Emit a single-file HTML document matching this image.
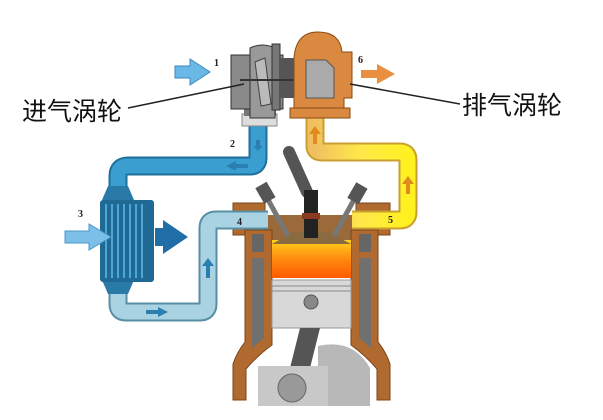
<!DOCTYPE html>
<html><head><meta charset="utf-8"><style>
html,body{margin:0;padding:0;background:#fff;width:603px;height:420px;overflow:hidden}
svg{display:block}
</style></head><body>
<svg width="603" height="420" viewBox="0 0 603 420" xmlns="http://www.w3.org/2000/svg">
<defs>
<linearGradient id="fire" x1="0" y1="0" x2="0" y2="1"><stop offset="0" stop-color="#ffd21a"/><stop offset="0.5" stop-color="#ff8a10"/><stop offset="1" stop-color="#ff5a00"/></linearGradient>
<linearGradient id="yel" x1="0" y1="0" x2="1" y2="0"><stop offset="0" stop-color="#f0c060"/><stop offset="0.5" stop-color="#ffe84a"/><stop offset="1" stop-color="#fff020"/></linearGradient>
</defs>
<!-- dark blue pipe -->
<path d="M258 124 V158 Q258 166 250 166 H128 Q118 166 118 176 V192" fill="none" stroke="#1e6f9a" stroke-width="19"/>
<path d="M258 124 V158 Q258 166 250 166 H128 Q118 166 118 176 V192" fill="none" stroke="#3a9fd0" stroke-width="15"/>
<!-- engine head blocks -->
<rect x="233" y="203" width="32" height="32" fill="#b06a30" stroke="#7a4418"/>
<rect x="356" y="203" width="34" height="32" fill="#b06a30" stroke="#7a4418"/>
<rect x="265" y="215" width="91" height="25" fill="#9a6a3a"/>
<!-- walls -->
<path d="M245 230 h27 v115 q-14 10 -26 24 v31 h-13 v-36 q4 -12 12 -22z" fill="#b06a30" stroke="#7a4418"/>
<path d="M378 230 h-27 v115 q14 10 26 24 v31 h13 v-36 q-4 -12 -12 -22z" fill="#b06a30" stroke="#7a4418"/>
<rect x="252" y="234" width="12" height="18" fill="#666"/>
<path d="M252 258 h12 v80 l-12 10z" fill="#707070"/>
<rect x="359" y="234" width="12" height="18" fill="#666"/>
<path d="M371 258 h-12 v80 l12 10z" fill="#707070"/>
<!-- light blue pipe -->
<path d="M118 290 V304 Q118 312 126 312 H200 Q208 312 208 304 V228 Q208 220 216 220 H268" fill="none" stroke="#5a8ea5" stroke-width="19"/>
<path d="M118 290 V304 Q118 312 126 312 H200 Q208 312 208 304 V228 Q208 220 216 220 H268" fill="none" stroke="#a9d3e2" stroke-width="15"/>
<!-- yellow pipe -->
<path d="M315 118 V146 Q315 152 322 152 H400 Q408 152 408 160 V212 Q408 220 400 220 H352" fill="none" stroke="#c9a030" stroke-width="19"/>
<path d="M315 118 V146 Q315 152 322 152 H400 Q408 152 408 160 V212 Q408 220 400 220 H352" fill="none" stroke="url(#yel)" stroke-width="15"/>
<!-- chamber & piston -->
<rect x="272" y="240" width="79" height="38" fill="url(#fire)"/>
<path d="M272 244 l22 -12 h34 l23 12z" fill="#8a6a40"/>
<rect x="272" y="280" width="79" height="48" fill="#d8d8d8" stroke="#999"/>
<line x1="272" y1="286" x2="351" y2="286" stroke="#888"/>
<line x1="272" y1="291" x2="351" y2="291" stroke="#888"/>
<circle cx="311" cy="302" r="7" fill="#888" stroke="#555"/>
<!-- crank area -->
<path d="M318 346 q35 -8 52 22 v38 h-52z" fill="#b8b8b8"/>
<path d="M300 328 h20 l-12 48 h-20z" fill="#555"/>
<path d="M258 366 h70 v40 h-70z" fill="#c8c8c8"/>
<circle cx="292" cy="388" r="14" fill="#999" stroke="#666"/>
<!-- pipe arrows -->
<path d="M226 166 l10 -5 v3 h12 v4 h-12 v3z" fill="#2a7fb0"/>
<path d="M258 151 l-5 -5 h3 v-6 h4 v6 h3z" fill="#2a7fb0"/>
<path d="M168 312 l-10 -5 v3 h-12 v4 h12 v3z" fill="#2a7fb0"/>
<path d="M208 258 l-6 8 h4 v12 h4 v-12 h4z" fill="#2a7fb0"/>
<path d="M408 176 l-6 8 h4 v10 h4 v-10 h4z" fill="#e08a20"/>
<path d="M315 126 l-6 8 h4 v10 h4 v-10 h4z" fill="#e08a20"/>
<!-- intercooler -->
<path d="M108 186 h20 l6 14 h-32z" fill="#2a7aa8"/>
<path d="M102 280 h32 l-6 14 h-20z" fill="#2a7aa8"/>
<rect x="100" y="200" width="54" height="82" rx="3" fill="#1f6a95"/>
<g stroke="#4da6d6" stroke-width="2">
<line x1="106" y1="204" x2="106" y2="278"/><line x1="112" y1="204" x2="112" y2="278"/><line x1="118" y1="204" x2="118" y2="278"/><line x1="124" y1="204" x2="124" y2="278"/><line x1="130" y1="204" x2="130" y2="278"/><line x1="136" y1="204" x2="136" y2="278"/><line x1="142" y1="204" x2="142" y2="278"/>
</g>
<path d="M65 231 h24 v-7 l22 13 l-22 13 v-7 h-24z" fill="#7cc0e8" stroke="#4b98c8"/>
<path d="M155 228 h8 v-8 l25 17 l-25 17 v-8 h-8z" fill="#1f6ea8"/>
<!-- valves -->
<path d="M266 196 l22 40" stroke="#777" stroke-width="5"/>
<rect x="259" y="184" width="13" height="18" fill="#555" transform="rotate(-30 265 193)"/>
<path d="M356 196 l-22 40" stroke="#777" stroke-width="5"/>
<rect x="351" y="184" width="13" height="18" fill="#555" transform="rotate(30 357 193)"/>
<!-- spark plug -->
<path d="M289 152 l18 40" stroke="#555" stroke-width="12" stroke-linecap="round"/>
<rect x="304" y="190" width="14" height="48" fill="#222"/>
<rect x="302" y="213" width="18" height="6" fill="#8a3a20"/>
<!-- intake turbo -->
<rect x="242" y="114" width="35" height="12" fill="#ddd" stroke="#888"/>
<rect x="244" y="100" width="32" height="16" fill="#777"/>
<rect x="231" y="55" width="52" height="54" fill="#8a8a8a" stroke="#333"/>
<path d="M250 48 q12 -6 25 0 v70 h-25z" fill="#999" stroke="#333"/>
<rect x="272" y="44" width="8" height="66" fill="#777" stroke="#333"/>
<path d="M255 62 l10 -4 l6 46 l-10 2z" fill="#bbb" stroke="#444"/>
<rect x="280" y="58" width="14" height="40" fill="#555"/>
<line x1="240" y1="80" x2="330" y2="80" stroke="#333" stroke-width="2"/>
<!-- exhaust turbo -->
<path d="M294 58 q2 -26 24 -26 q22 0 24 20 h10 v46 h-8 v10 h-50z" fill="#d98a40" stroke="#8a4a10"/>
<rect x="290" y="108" width="60" height="10" fill="#d98a40" stroke="#8a4a10"/>
<path d="M306 60 h20 l8 8 v30 h-28z" fill="#aaa" stroke="#555"/>
<!-- intake/exhaust arrows -->
<path d="M175 66 h15 v-7 l20 13 l-20 13 v-7 h-15z" fill="#6ab8e6" stroke="#3a88c0"/>
<path d="M361 70 h16 v-6 l18 10 l-18 10 v-6 h-16z" fill="#e89040"/>
<!-- leader lines -->
<line x1="128" y1="108" x2="244" y2="84" stroke="#222" stroke-width="1.5"/>
<line x1="350" y1="84" x2="460" y2="104" stroke="#222" stroke-width="1.5"/>
<!-- labels -->
<g font-family="'Liberation Sans','Noto Sans CJK SC',sans-serif" font-size="25" fill="#111">
<text x="22" y="120">进气涡轮</text>
<text x="462" y="114">排气涡轮</text>
</g>
<g font-family="'Liberation Serif',serif" font-size="10" font-weight="bold" fill="#222">
<text x="214" y="66">1</text><text x="358" y="63">6</text><text x="230" y="147">2</text>
<text x="78" y="217">3</text><text x="237" y="225">4</text><text x="388" y="223">5</text>
</g>
</svg>
</body></html>
